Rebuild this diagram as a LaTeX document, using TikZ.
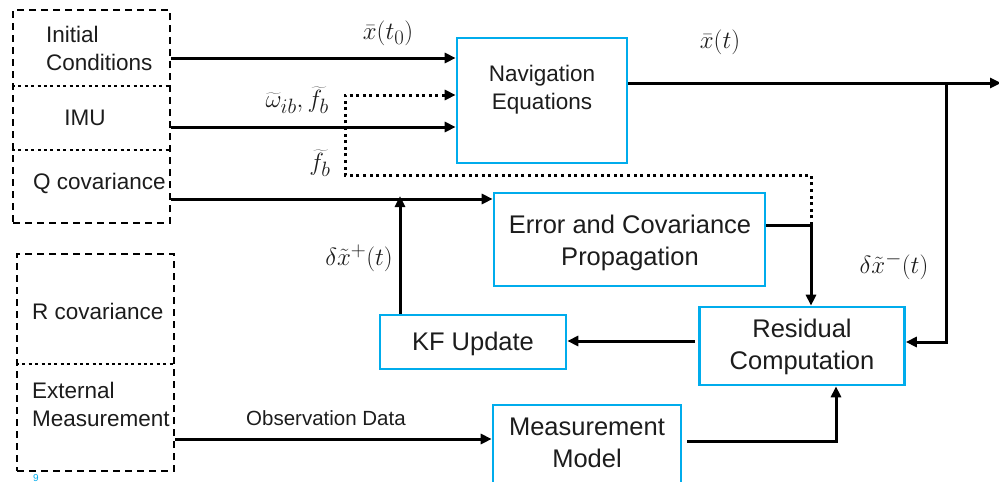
\documentclass[tikz,border=0pt]{standalone}
\usepackage{fontspec}
\setmainfont{Liberation Sans}
\usetikzlibrary{arrows.meta}
\definecolor{boxblue}{RGB}{0,172,236}
\definecolor{txt}{RGB}{28,28,28}
\begin{document}
\begin{tikzpicture}[x=1pt,y=-1pt,
  bluebox/.style={draw=boxblue,line width=2.6pt,inner sep=0pt},
  srcbox/.style={draw=black,line width=2.2pt,dash pattern=on 7pt off 5pt,inner sep=0pt},
  sepline/.style={draw=black,line width=2.6pt,dash pattern=on 3pt off 3.4pt},
  boxtext/.style={align=center,font=\fontsize{25.5}{32}\selectfont,text=txt,inner sep=0pt},
  navtext/.style={align=center,font=\fontsize{22.5}{28}\selectfont,text=txt,inner sep=0pt},
  srctext/.style={align=left,font=\fontsize{22.5}{28}\selectfont,text=txt,inner sep=0pt},
  mathlbl/.style={font=\fontsize{24.88}{28}\selectfont,text=txt,inner sep=0pt},
  flow/.style={line width=3pt,-{Triangle[length=11pt,width=10pt]}},
  dotflow/.style={line width=3pt,dash pattern=on 3pt off 3.6pt,-{Triangle[length=11pt,width=10pt]}}]

\clip (0,0) rectangle (999,482);

% input panels
\node[srcbox,minimum width=157pt,minimum height=213pt] (src) at (91.5,116.5) {};
\draw[sepline] (src.west |- 0,86) -- (src.east |- 0,86);
\draw[sepline] (src.west |- 0,150) -- (src.east |- 0,150);
\node[srctext,anchor=west] (ictext) at (46,48) {Initial\\Conditions};
\node[srctext] (imutext) at (85,118) {IMU};
\node[srctext,anchor=west] (qtext) at (33,183) {Q covariance};

\node[srcbox,minimum width=157pt,minimum height=217pt] (ext) at (95.5,362.5) {};
\draw[sepline] (ext.west |- 0,364) -- (ext.east |- 0,364);
\node[srctext,anchor=west] (rtext) at (32,311) {R covariance};
\node[srctext,anchor=west] (exttext) at (32,404) {External\\Measurement};
\node[font=\fontsize{10}{12}\selectfont,text=boxblue,inner sep=0pt] (pagenum) at (36,478) {9};

% processing blocks
\node[bluebox,minimum width=170pt,minimum height=125pt] (nav) at (542,100.5) {};
\node[navtext] (navtext) at (542,90) {Navigation\\Equations};
\node[bluebox,minimum width=271pt,minimum height=93pt] (err) at (629.5,239.5) {};
\node[boxtext] (errtext) at (630,243) {Error and Covariance\\Propagation};
\node[bluebox,minimum width=205pt,minimum height=78pt] (res) at (802,346) {};
\node[boxtext] (restext) at (802,347) {Residual\\Computation};
\node[bluebox,minimum width=186pt,minimum height=54pt] (kf) at (473,342) {};
\node[boxtext] (kftext) at (473,344) {KF Update};
\node[bluebox,minimum width=188pt,minimum height=110pt] (meas) at (587,460) {};
\node[boxtext] (meastext) at (587,443) {Measurement\\Model};

% signal flow
\draw[flow] (src.east |- 0,58) -- (nav.west |- 0,58);
\draw[flow] (src.east |- 0,127) -- (nav.west |- 0,127);
\draw[flow] (src.east |- 0,199) -- (err.west |- 0,199);
\coordinate (fbtap) at (811,225);
\draw[dotflow] (fbtap) -- (811,175) -- (345,175) -- (345,95) -- (nav.west |- 0,95);
\draw[flow] (kf.north -| 400,0) -- (400,196);
\draw[flow] (nav.east |- 0,83) -- (1001,83);
\draw[flow] (946,83) |- (res.east |- 0,342);
\draw[flow] (err.east |- 0,225) -| (res.north -| fbtap);
\draw[flow] (695,341) -- (kf.east |- 0,341);
\draw[flow] (ext.east |- 0,439) -- (meas.west |- 0,439);
\draw[flow] (687,441) -| (res.south -| 836,0);

% signal labels
\node[mathlbl] (lx0) at (388,33) {$\bar{x}(t_0)$};
\node[mathlbl,anchor=east] (lomega) at (329,100) {$\widetilde{\omega}_{ib},\widetilde{f}_b$};
\node[mathlbl] (lfb) at (320,163) {$\widetilde{f}_b$};
\node[mathlbl] (lxt) at (720,42) {$\bar{x}(t)$};
\node[mathlbl] (lplus) at (359,258) {$\delta\tilde{x}^{+}(t)$};
\node[mathlbl] (lminus) at (894,266) {$\delta\tilde{x}^{-}(t)$};
\node[font=\fontsize{20.5}{24}\selectfont,text=txt,inner sep=0pt] (lobs) at (326,418) {Observation Data};
\end{tikzpicture}
\end{document}
